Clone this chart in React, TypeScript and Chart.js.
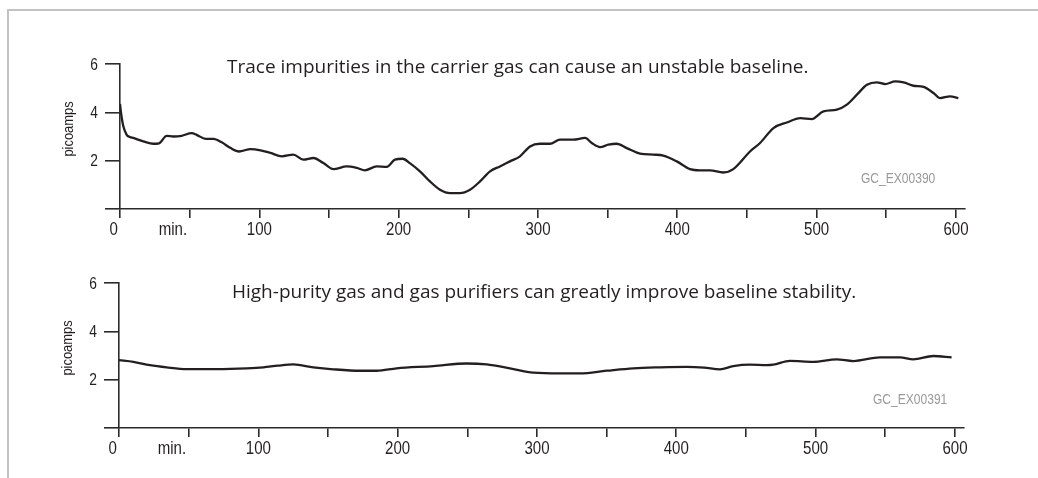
import React, { useEffect, useRef } from "react";
import { Chart, registerables } from "chart.js";

Chart.register(...registerables);

// ---------- data ----------
const xTickValues = [0, 50, 100, 150, 200, 250, 300, 350, 400, 450, 500, 550, 600];
const xTickLabels = ["0   ", "min.        ", "100", "", "200", "", "300", "", "400", "", "500", "", "600"];
const yTickValues = [0, 2, 4, 6];
const yTickLabels = ["", "2", "4", "6"];
const yTitle = "picoamps";

const title1 = "Trace impurities in the carrier gas can cause an unstable baseline.";
const code1 = "GC_EX00390";
const time1 = [
  0, 0.7, 2.4, 4.8, 7, 9.6, 16.7, 24, 28, 33.5, 38.3, 44.3, 51.4, 55, 61.5, 67, 73, 79.4, 85.4, 93.8,
  100.9, 108, 116.2, 124.4, 131.6, 138.8, 146, 153.1, 162.7, 169.9, 175.8, 184.2, 191.4, 197.3, 203, 208,
  215.3, 222.5, 229.7, 236.9, 244, 251.2, 258.4, 265.6, 272.7, 279.9, 287.1, 294.3, 301.4, 308.6, 315.8,
  325.4, 333.8, 338.6, 344.6, 350.5, 356.5, 363.7, 373.3, 382.8, 390, 399.6, 409.1, 416.3, 423.5, 433,
  440.2, 452.2, 459.4, 469, 478.6, 488.2, 496.5, 504.9, 514.5, 521.7, 528.9, 536.1, 543.2, 549.2, 556.4,
  562.4, 569.5, 576.7, 583.9, 588.7, 595.7, 601.7,
];
const signal1 = [
  4.35, 4.0, 3.42, 3.07, 2.98, 2.94, 2.8, 2.7, 2.72, 3.03, 3.0, 3.03, 3.14, 3.07, 2.9, 2.9, 2.76, 2.52, 2.38, 2.48,
  2.43, 2.32, 2.18, 2.25, 2.04, 2.11, 1.9, 1.65, 1.76, 1.7, 1.6, 1.76, 1.74, 2.04, 2.08, 1.9,
  1.56, 1.14, 0.8, 0.66, 0.66, 0.8, 1.14, 1.56, 1.76, 1.97, 2.18, 2.59, 2.7, 2.7, 2.87,
  2.87, 2.94, 2.73, 2.56, 2.66, 2.7, 2.52, 2.29, 2.25, 2.21, 1.97, 1.65, 1.6, 1.6, 1.51,
  1.65, 2.38, 2.73, 3.35, 3.58, 3.76, 3.72, 4.04, 4.11, 4.32, 4.73, 5.14, 5.24, 5.17, 5.28,
  5.24, 5.1, 5.05, 4.8, 4.59, 4.66, 4.59,
];

const title2 = "High-purity gas and gas purifiers can greatly improve baseline stability.";
const code2 = "GC_EX00391";
const time2 = [
  0, 10.3, 22.2, 34.2, 48.6, 70.1, 91.7, 103.6, 114, 125.1, 139.5, 153.8, 173, 185, 199.3, 225.6, 249.6,
  263.9, 280.6, 297.4, 316.5, 330.9, 350, 369.1, 388.3, 407.4, 420, 431.3, 440.9, 452.8, 464.9, 469.6,
  481.6, 498.3, 515.1, 527, 546.2, 560.5, 570.1, 584.4, 597.6,
];
const signal2 = [
  2.81, 2.74, 2.6, 2.51, 2.44, 2.44, 2.47, 2.51, 2.58, 2.63, 2.51, 2.43, 2.37, 2.37, 2.47, 2.56, 2.67,
  2.63, 2.47, 2.29, 2.26, 2.26, 2.37, 2.47, 2.51, 2.53, 2.5, 2.43, 2.56, 2.62, 2.6, 2.62,
  2.78, 2.74, 2.84, 2.77, 2.92, 2.92, 2.84, 2.98, 2.92,
];

// ---------- styling ----------
const INK = "#231f20";
const AXIS = "#2b2b2b";
const NARROW = "'Liberation Sans', Arial, sans-serif";
const SQUEEZE = 0.86;
const SANS = "'Open Sans', 'Noto Sans', sans-serif";

function narrowText(ctx: any, text: string, x: number, y: number, align: string, rotate = 0) {
  ctx.save();
  ctx.translate(x, y);
  if (rotate) ctx.rotate(rotate);
  ctx.scale(SQUEEZE, 1);
  ctx.textAlign = align;
  ctx.fillText(text, 0, 0);
  ctx.restore();
}

const annotPlugin = {
  id: "annot",
  afterDraw(chart: any, _args: any, opts: any) {
    const ctx = chart.ctx;
    const area = chart.chartArea;
    const xs = chart.scales.x;
    const ys = chart.scales.y;
    ctx.save();
    ctx.fillStyle = INK;

    // x tick labels
    ctx.font = `17.5px ${NARROW}`;
    ctx.textBaseline = "alphabetic";
    xTickValues.forEach((v, i) => {
      const label = xTickLabels[i];
      if (label) narrowText(ctx, label, xs.getPixelForValue(v), area.bottom + 26, "center");
    });

    // y tick labels
    ctx.font = `16px ${NARROW}`;
    yTickValues.forEach((v, i) => {
      const label = yTickLabels[i];
      if (label) narrowText(ctx, label, area.left - 22, ys.getPixelForValue(v) + 5.7, "right");
    });

    // y axis title
    ctx.font = `15px ${NARROW}`;
    ctx.textBaseline = "middle";
    narrowText(ctx, yTitle, area.left - 51, area.top + 65, "center", -Math.PI / 2);

    // headline
    ctx.textBaseline = "alphabetic";
    ctx.textAlign = "left";
    ctx.font = `19px ${SANS}`;
    ctx.fillText(opts.title, opts.titleX, opts.titleY);

    // figure code
    ctx.fillStyle = "#9a9a9a";
    ctx.font = `14px ${NARROW}`;
    narrowText(ctx, opts.code, opts.codeX, opts.codeY, "left");
    ctx.restore();
  },
};

function makeConfig(times: number[], values: number[], ann: any) {
  return {
    type: "line",
    data: {
      datasets: [
        {
          data: times.map((t, i) => ({ x: t, y: values[i] })),
          borderColor: INK,
          borderWidth: 2.3,
          pointRadius: 0,
          tension: 0.4,
          cubicInterpolationMode: "monotone",
          fill: false,
        },
      ],
    },
    options: {
      responsive: false,
      maintainAspectRatio: false,
      animation: false,
      events: [],
      layout: { padding: { left: 0, top: 64, right: 73, bottom: 0 } },
      plugins: {
        legend: { display: false },
        tooltip: { enabled: false },
        title: { display: false },
        annot: ann,
      },
      scales: {
        x: {
          type: "linear",
          min: 0,
          max: 606.5,
          afterBuildTicks: (s: any) => {
            s.ticks = xTickValues.map((v) => ({ value: v }));
          },
          afterFit: (s: any) => {
            s.height = 31;
          },
          ticks: { display: false, autoSkip: false, maxRotation: 0 },
          grid: { drawOnChartArea: false, drawTicks: true, tickLength: 9, color: AXIS, lineWidth: 1.6 },
          border: { display: true, color: AXIS, width: 1.6 },
        },
        y: {
          type: "linear",
          min: 0,
          max: 6,
          afterBuildTicks: (s: any) => {
            s.ticks = yTickValues.map((v) => ({ value: v }));
          },
          afterFit: (s: any) => {
            s.width = 120;
          },
          ticks: { display: false },
          grid: { drawOnChartArea: false, drawTicks: true, tickLength: 15, color: AXIS, lineWidth: 1.6 },
          border: { display: true, color: AXIS, width: 1.6 },
          title: { display: false },
        },
      },
    },
    plugins: [annotPlugin],
  } as any;
}

function Panel(props: { times: number[]; values: number[]; ann: any; top: number; left: number }) {
  const ref = useRef<HTMLCanvasElement | null>(null);
  useEffect(() => {
    if (!ref.current) return;
    const chart = new Chart(ref.current, makeConfig(props.times, props.values, props.ann));
    return () => chart.destroy();
  }, []);
  return (
    <canvas
      ref={ref}
      width={1038}
      height={240}
      style={{ position: "absolute", left: props.left, top: props.top, width: 1038, height: 240, display: "block" }}
    />
  );
}

export default function App() {
  return (
    <div style={{ position: "fixed", left: 0, top: 0, width: 1038, height: 478, background: "#fff", overflow: "hidden" }}>
      <div
        style={{
          position: "absolute",
          left: 7,
          top: 9,
          width: 1031,
          height: 469,
          borderTop: "2px solid #c2c2c2",
          borderLeft: "2px solid #c2c2c2",
          boxSizing: "border-box",
        }}
      />
      <Panel
        times={time1}
        values={signal1}
        top={0}
        left={0}
        ann={{ title: title1, titleX: 227, titleY: 73, code: code1, codeX: 861, codeY: 183 }}
      />
      <Panel
        times={time2}
        values={signal2}
        top={219}
        left={-1}
        ann={{ title: title2, titleX: 233, titleY: 79, code: code2, codeX: 874, codeY: 185 }}
      />
    </div>
  );
}
